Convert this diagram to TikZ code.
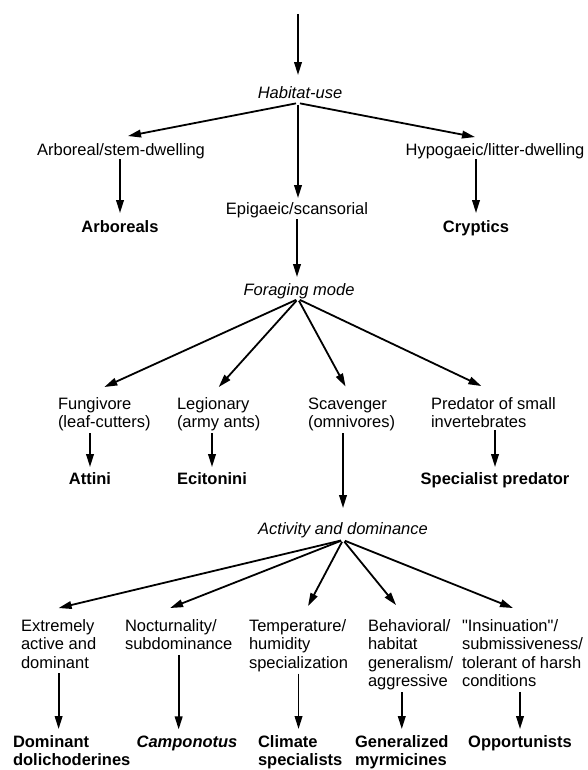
\documentclass[tikz,border=0pt]{standalone}
\usepackage{fontspec}
\setmainfont{Liberation Sans}
\usetikzlibrary{arrows.meta}
\newcommand\treefont{\fontsize{8.25}{9.3}\selectfont}
\begin{document}
\begin{tikzpicture}[x=0.5pt,y=-0.5pt,
	lbl/.style={inner sep=0pt,outer sep=0pt,anchor=base,font=\treefont},
	blk/.style={lbl,anchor=base west,align=left},
	bblk/.style={blk,font=\treefont\bfseries},
	arr/.style={-{Triangle[length=6.5pt,width=3.8pt]},line width=0.9pt,shorten >=3pt,shorten <=1pt}]
	\useasboundingbox (0,0) rectangle (588,770);
	\coordinate (top) at (298,12);
	\node[lbl] (hab) at (300,99) {\itshape Habitat-use};
	\coordinate (hj) at (298,103);
	\node[lbl] (arbd) at (121,156) {Arboreal/stem-dwelling};
	\node[lbl] (hypo) at (495,156) {Hypogaeic/litter-dwelling};
	\node[lbl] (epi) at (297,214) {Epigaeic/scansorial};
	\node[lbl] (arbs) at (120,233) {\bfseries Arboreals};
	\node[lbl] (cryp) at (476,233) {\bfseries Cryptics};
	\node[lbl] (for) at (299,295) {\itshape Foraging mode};
	\coordinate (fj) at (298,299);
	\node[blk] (fung) at (58,427.6) {Fungivore\\(leaf-cutters)};
	\node[blk] (leg) at (177,427.6) {Legionary\\(army ants)};
	\node[blk] (scav) at (308,427.6) {Scavenger\\(omnivores)};
	\node[blk] (pred) at (431,427.6) {Predator of small\\invertebrates};
	\node[lbl] (att) at (90,484) {\bfseries Attini};
	\node[lbl] (eci) at (212,484) {\bfseries Ecitonini};
	\node[lbl] (spec) at (495,484) {\bfseries Specialist predator};
	\node[lbl] (act) at (343,534) {\itshape Activity and dominance};
	\coordinate (aj) at (343,540);
	\node[blk] (ext) at (21,668.2) {Extremely\\active and\\dominant};
	\node[blk] (noct) at (125,649.6) {Nocturnality/\\subdominance};
	\node[blk] (temp) at (249,668.2) {Temperature/\\humidity\\specialization};
	\node[blk] (beh) at (368,686.8) {Behavioral/\\habitat\\generalism/\\aggressive};
	\node[blk] (ins) at (462,686.8) {\textquotedbl Insinuation\textquotedbl/\\submissiveness/\\tolerant of harsh\\conditions};
	\node[bblk] (dom) at (13,765.6) {Dominant\\dolichoderines};
	\node[lbl] (camp) at (187,747) {\bfseries\itshape Camponotus};
	\node[bblk] (clim) at (258,765.6) {Climate\\specialists};
	\node[bblk] (gen) at (355,765.6) {Generalized\\myrmicines};
	\node[lbl] (opp) at (520,747) {\bfseries Opportunists};
	\draw[arr,shorten >=6pt] (top) -- (top |- hab.north);
	\draw[arr,shorten >=0pt] (hj) -- ([xshift=3.5pt,yshift=4pt]arbd.north);
	\draw[arr,shorten >=0pt] (hj) -- ([xshift=-10pt,yshift=3.5pt]hypo.north);
	\draw[arr,shorten >=2pt] (hj) -- (hj |- epi.north);
	\draw[arr,shorten <=0pt,shorten >=4pt] (arbs |- arbd.south) -- (arbs.north);
	\draw[arr,shorten <=0pt,shorten >=4pt] (cryp |- hypo.south) -- (cryp.north);
	\draw[arr] (epi.south) -- (epi.south |- for.north);
	\draw[arr,shorten >=0pt] (fj) -- ([yshift=5pt]fung.north);
	\draw[arr,shorten >=0pt] (fj) -- ([yshift=5pt]leg.north);
	\draw[arr,shorten >=0pt] (fj) -- ([xshift=-3pt,yshift=5.5pt]scav.north);
	\draw[arr,shorten >=0pt] (fj) -- ([xshift=-6pt,yshift=5.5pt]pred.north);
	\draw[arr,shorten >=2.5pt] (att |- fung.south) -- (att.north);
	\draw[arr,shorten >=2.5pt] (eci |- leg.south) -- (eci.north);
	\draw[arr,shorten >=7pt] (act |- scav.south) -- (act.north);
	\draw[arr,shorten >=2.5pt] (spec |- pred.south) -- (spec.north);
	\draw[arr,shorten >=0pt] (aj) -- ([yshift=5.5pt]ext.north);
	\draw[arr,shorten >=0pt] (aj) -- ([xshift=-4.3pt,yshift=5.5pt]noct.north);
	\draw[arr,shorten >=0pt] (aj) -- ([xshift=4.75pt,yshift=6.5pt]temp.north);
	\draw[arr,shorten >=0pt] (aj) -- ([xshift=-7.3pt,yshift=7pt]beh.north);
	\draw[arr,shorten >=0pt] (aj) -- ([xshift=-4.75pt,yshift=5.5pt]ins.north);
	\draw[arr,shorten <=2.5pt] (ext.south) -- (ext.south |- dom.north);
	\draw[arr,shorten <=2.5pt] (noct.south) -- (noct.south |- camp.north);
	\draw[arr] (temp.south) -- (temp.south |- clim.north);
	\draw[arr] (gen |- beh.south) -- (gen.north);
	\draw[arr,shorten <=2.5pt] (opp |- ins.south) -- (opp.north);
\end{tikzpicture}
\end{document}
